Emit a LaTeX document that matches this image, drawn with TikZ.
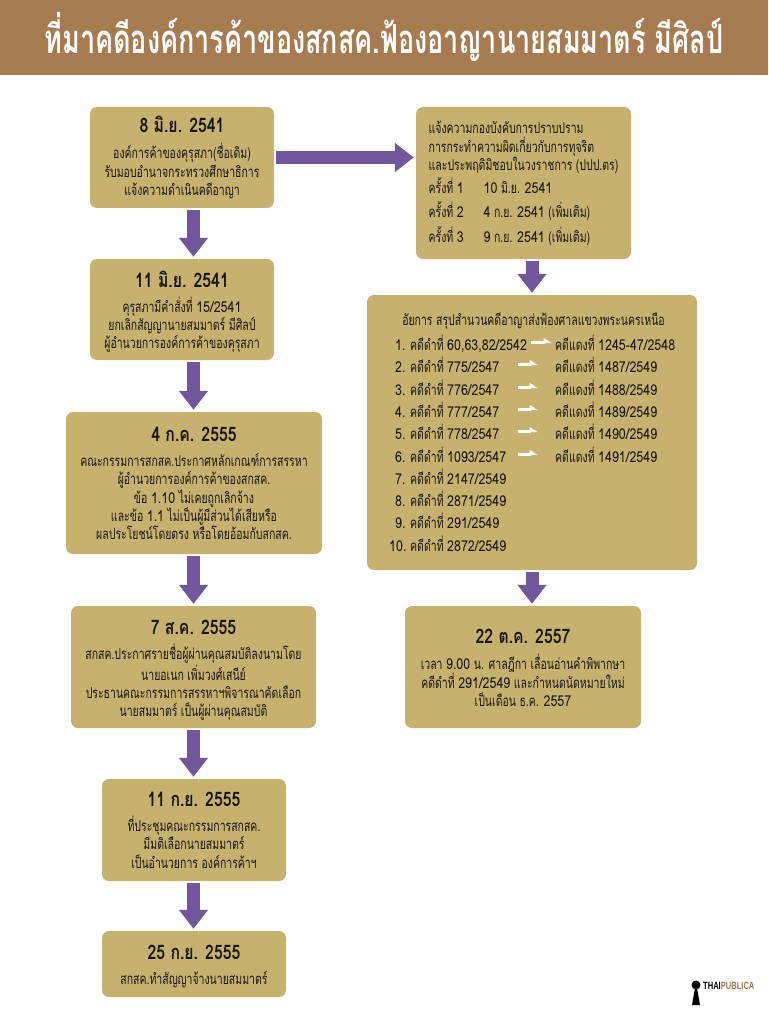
\documentclass[tikz,border=0pt]{standalone}
\usepackage{fontspec}
\usetikzlibrary{arrows.meta,calc}
\newfontfamily\thaibody[Script=Thai,FakeStretch=0.70]{Loma}
\newfontfamily\thaidigit[Script=Thai,FakeStretch=0.83]{Loma}
\newfontfamily\thaihead[Script=Thai,FakeStretch=0.79]{Loma Bold}
\newfontfamily\thaititle[Script=Thai,FakeStretch=0.675]{Loma Bold}
\newfontfamily\logofont[FakeStretch=0.72]{Liberation Sans Bold}
\definecolor{headerbrown}{HTML}{A67B50}
\definecolor{boxtan}{HTML}{C6B16E}
\definecolor{flowpurple}{HTML}{70569A}
\definecolor{inktext}{HTML}{1A1712}
\definecolor{logobrown}{HTML}{9A7B4F}
\newcommand{\dateline}[2][0pt]{{\rule{0pt}{#1}\thaihead\fontsize{20}{22}\selectfont #2}}
\newcommand{\dg}[1]{{\thaidigit #1}}
\tikzset{
  x=1pt,y=-1pt,
  tanbox/.style={fill=boxtan,rounded corners=7pt,inner sep=0pt,align=center,text=inktext,
    font=\thaibody\fontsize{15}{18.3}\selectfont},
  flowarrow/.style={draw=flowpurple,line width=13pt,
    -{Triangle[length=19pt,width=28pt]},shorten <=1.5pt,shorten >=2pt},
  caserow/.style={anchor=base west,inner sep=0pt,text=inktext,
    font=\thaibody\fontsize{15}{15}\selectfont},
  whitearrow/.style={draw=white,line width=3.6pt,-{Triangle[harpoon,length=7pt,width=8.5pt]}},
}
\begin{document}
\begin{tikzpicture}
\useasboundingbox (0,0) rectangle (768,1024);
\fill[white] (0,0) rectangle (768,1024);
\coordinate (spine) at (193.5,0);
\node[fill=headerbrown,minimum width=768pt,minimum height=75pt,inner sep=0pt,anchor=north west] (header) at (0,0) {};
\node[text=white,font=\thaititle\fontsize{40}{42}\selectfont,inner sep=0pt] (title) at (384,37) {ที่มาคดีองค์การค้าของสกสค.ฟ้องอาญานายสมมาตร์ มีศิลป์};

\node[tanbox,minimum width=184pt,minimum height=101pt] (b1) at (182,157.5) {\dateline[15pt]{8 มิ.ย. 2541}\\[8pt]องค์การค้าของคุรุสภา(ชื่อเดิม)\\รับมอบอำนาจกระทรวงศึกษาธิการ\\แจ้งความดำเนินคดีอาญา};
\node[tanbox,minimum width=184pt,minimum height=101pt] (b2) at (182,309.5) {\dateline[21pt]{11 มิ.ย. 2541}\\[7pt]คุรุสภามีคำสั่งที่ \dg{15/2541}\\ยกเลิกสัญญานายสมมาตร์ มีศิลป์\\ผู้อำนวยการองค์การค้าของคุรุสภา};
\node[tanbox,minimum width=256pt,minimum height=142pt] (b3) at (194,483) {\dateline[15pt]{4 ก.ค. 2555}\\[7pt]คณะกรรมการสกสค.ประกาศหลักเกณฑ์การสรรหา\\ผู้อำนวยการองค์การค้าของสกสค.\\ข้อ \dg{1.10} ไม่เคยถูกเลิกจ้าง\\และข้อ \dg{1.1} ไม่เป็นผู้มีส่วนได้เสียหรือ\\ผลประโยชน์โดยตรง หรือโดยอ้อมกับสกสค.};
\node[tanbox,minimum width=245pt,minimum height=122pt] (b4) at (193.5,667) {\dateline[21pt]{7 ส.ค. 2555}\\[7pt]สกสค.ประกาศรายชื่อผู้ผ่านคุณสมบัติลงนามโดย\\นายอเนก เพิ่มวงศ์เสนีย์\\ประธานคณะกรรมการสรรหาฯพิจารณาคัดเลือก\\นายสมมาตร์ เป็นผู้ผ่านคุณสมบัติ};
\node[tanbox,minimum width=184pt,minimum height=102pt] (b5) at (194,830) {\dateline{11 ก.ย. 2555}\\[7pt]ที่ประชุมคณะกรรมการสกสค.\\มีมติเลือกนายสมมาตร์\\เป็นอำนวยการ องค์การค้าฯ};
\node[tanbox,minimum width=184pt,minimum height=66pt] (b6) at (194,964) {\dateline[19pt]{25 ก.ย. 2555}\\[7pt]สกสค.ทำสัญญาจ้างนายสมมาตร์};

\node[tanbox,minimum width=215pt,minimum height=152pt,align=left] (r1) at (523.5,183) {\rule{0pt}{14pt}แจ้งความกองบังคับการปราบปราม\\การกระทำความผิดเกี่ยวกับการทุจริต\\และประพฤติมิชอบในวงราชการ (ปปป.ตร)\\[3pt]\makebox[55pt][l]{ครั้งที่ \dg{1}}\dg{10} มิ.ย. \dg{2541}\\[6pt]\makebox[55pt][l]{ครั้งที่ \dg{2}}\dg{4} ก.ย. \dg{2541} (เพิ่มเติม)\\[5pt]\makebox[55pt][l]{ครั้งที่ \dg{3}}\dg{9} ก.ย. \dg{2541} (เพิ่มเติม)};
\node[fill=boxtan,rounded corners=7pt,inner sep=0pt,minimum width=330pt,minimum height=275pt] (r2) at (532,432.5) {};
\node[tanbox,minimum width=236pt,minimum height=122pt] (r3) at (523,667) {\dateline[17pt]{22 ต.ค. 2557}\\[7pt]เวลา \dg{9.00} น. ศาลฎีกา เลื่อนอ่านคำพิพากษา\\คดีดำที่ \dg{291/2549} และกำหนดนัดหมายใหม่\\เป็นเดือน ธ.ค. \dg{2557}};

\node[caserow,anchor=base] (r2title) at (533.5,325) {อัยการ สรุปสำนวนคดีอาญาส่งฟ้องศาลแขวงพระนครเหนือ};
\node[caserow] (d1) at (395,350) {\makebox[15pt][l]{\dg{1.}}คดีดำที่ \dg{60,63,82/2542}};
\node[caserow] (d2) at (395,372) {\makebox[15pt][l]{\dg{2.}}คดีดำที่ \dg{775/2547}};
\node[caserow] (d3) at (395,395) {\makebox[15pt][l]{\dg{3.}}คดีดำที่ \dg{776/2547}};
\node[caserow] (d4) at (395,417) {\makebox[15pt][l]{\dg{4.}}คดีดำที่ \dg{777/2547}};
\node[caserow] (d5) at (395,439) {\makebox[15pt][l]{\dg{5.}}คดีดำที่ \dg{778/2547}};
\node[caserow] (d6) at (395,462) {\makebox[15pt][l]{\dg{6.}}คดีดำที่ \dg{1093/2547}};
\node[caserow] (d7) at (395,484) {\makebox[15pt][l]{\dg{7.}}คดีดำที่ \dg{2147/2549}};
\node[caserow] (d8) at (395,506) {\makebox[15pt][l]{\dg{8.}}คดีดำที่ \dg{2871/2549}};
\node[caserow] (d9) at (395,528) {\makebox[15pt][l]{\dg{9.}}คดีดำที่ \dg{291/2549}};
\node[caserow] (d10) at (389,551) {\makebox[21pt][l]{\dg{10.}}คดีดำที่ \dg{2872/2549}};
\node[caserow] (t1) at (555,350) {คดีแดงที่ \dg{1245-47/2548}};
\node[caserow] (t2) at (555,372) {คดีแดงที่ \dg{1487/2549}};
\node[caserow] (t3) at (555,395) {คดีแดงที่ \dg{1488/2549}};
\node[caserow] (t4) at (555,417) {คดีแดงที่ \dg{1489/2549}};
\node[caserow] (t5) at (555,439) {คดีแดงที่ \dg{1490/2549}};
\node[caserow] (t6) at (555,462) {คดีแดงที่ \dg{1491/2549}};

\draw[flowarrow] (b1.south -| spine) -- (b2.north -| spine);
\draw[flowarrow] (b2.south -| spine) -- (b3.north -| spine);
\draw[flowarrow] (b3.south -| spine) -- (b4.north -| spine);
\draw[flowarrow] (b4.south -| spine) -- (b5.north -| spine);
\draw[flowarrow] (b5.south -| spine) -- (b6.north -| spine);
\draw[flowarrow] (b1.east) -- (b1.east -| r1.west);
\draw[flowarrow] (r1.south -| r2.north) -- (r2.north);
\draw[flowarrow] (r2.south) -- (r2.south |- r3.north);

\draw[whitearrow] ($(t1.west)+(-24,0)$) -- ($(t1.west)+(-3,0)$);
\foreach \k in {2,...,6}{
  \draw[whitearrow] ($(t\k.west)+(-37,0)$) -- ($(t\k.west)+(-17,0)$);
}

\fill[black] (696,985) circle (4.5pt);
\fill[black] (695,988) -- (697,988) -- (700,1005) -- (692,1005) -- cycle;
\node[anchor=west,inner sep=0pt,font=\logofont\fontsize{10.5}{11}\selectfont] (logo) at (703,986) {\textcolor{black}{THAI}\textcolor{logobrown}{PUBLICA}};
\end{tikzpicture}
\end{document}
